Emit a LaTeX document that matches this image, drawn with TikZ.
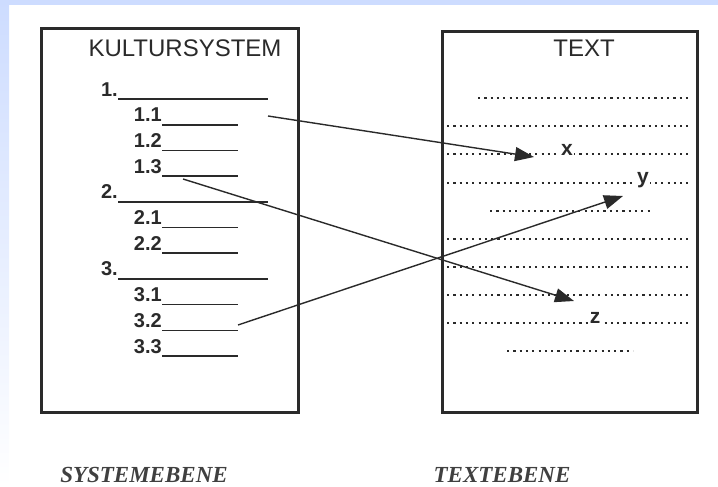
\documentclass[tikz,border=0pt]{standalone}
\usepackage{fontspec}
\setmainfont{Liberation Serif}
\setsansfont{Liberation Sans}
\usetikzlibrary{positioning,arrows.meta}
\definecolor{bgblue}{HTML}{CDDCFF}
\definecolor{inkgray}{HTML}{2A2A2A}

\begin{document}
\begin{tikzpicture}[x=1pt,y=-1pt,
	boxstyle/.style={draw=inkgray, line width=3pt, fill=white, 
	minimum width=257pt, minimum height=383pt, inner sep=0pt},
	titlestyle/.style={font=\sffamily\fontsize{24}{28}\selectfont, text=inkgray},
	itemstyle/.style={font=\sffamily\bfseries\fontsize{20}{24}\selectfont, 
	text=inkgray, inner sep=0pt},
	rulestyle/.style={draw=inkgray, line width=1.6pt},
	dotrow/.style={draw=inkgray, line width=2.2pt, dash pattern=on 2.2pt off 4.1pt},
	linkstyle/.style={-{Triangle[length=19pt,width=14pt]}, draw=inkgray, line width=1.4pt},
	varstyle/.style={font=\sffamily\bfseries\fontsize{21}{25}\selectfont, 
	text=inkgray, fill=white, inner sep=1pt},
	levelstyle/.style={font=\rmfamily\bfseries\itshape\fontsize{23}{27}\selectfont, 
	text=black!75, inner sep=0pt}
	]
	\useasboundingbox (0,0) rectangle (718,487);
	\shade[top color=bgblue, bottom color=white] (0,0) rectangle (9,487);
	\fill[bgblue] (0,0) rectangle (718,5);
	
	\node[boxstyle] (sysbox) at (169.5,220.5) {};
	\node[boxstyle, minimum width=255pt, minimum height=380pt] (textbox) at (569.5,222) {};
	\node[titlestyle] (systitle) at (185,48) {KULTURSYSTEM};
	\node[titlestyle] (texttitle) at (584,48) {TEXT};
	
	% gliederung
	\foreach \lab/\k in {1./0, 2./4, 3./7} {
		\node[itemstyle, anchor=base east] (item\k) at (118,{96+25.7*\k}) {\lab};
		\draw[rulestyle] (item\k.base east) ++(0,3) -- ++(150,0);
	}
	\foreach \lab/\k in {1.1/1, 1.2/2, 1.3/3, 2.1/5, 2.2/6, 3.1/8, 3.2/9, 3.3/10} {
		\node[itemstyle, anchor=base east] (item\k) at (162,{96+25.7*\k}) {\lab};
		\draw[rulestyle] (item\k.base east) ++(0,3) -- ++(76,0);
	}
	
	% textzeilen
	\foreach \y/\a/\b in {98/478/688, 126/447/688, 154/447/688, 183/447/688, 211/490/650,
		239/447/688, 267/447/688, 295/447/688, 323/447/688, 351/507/633} {
		\draw[dotrow] (\a,\y) -- (\b,\y);
	}
	\node[varstyle, anchor=base] (varx) at (567,155) {x};
	\node[varstyle, anchor=base] (vary) at (643,183) {y};
	\node[varstyle, anchor=base] (varz) at (595,323) {z};
	
	\coordinate (from11) at (268,116);
	\coordinate (from13) at (183,179);
	\coordinate (from32) at (238,325);
	\coordinate (tipx) at (534,157);
	\coordinate (tipz) at (574,301);
	\coordinate (tipy) at (623,196);
	\draw[linkstyle] (from11) to (tipx);
	\draw[linkstyle] (from13) to (tipz);
	\draw[linkstyle] (from32) to (tipy);
	
	\node[levelstyle] (syslevel) at (144,475) {SYSTEMEBENE};
	\node[levelstyle] (textlevel) at (502,475) {TEXTEBENE};
\end{tikzpicture}
\end{document}
